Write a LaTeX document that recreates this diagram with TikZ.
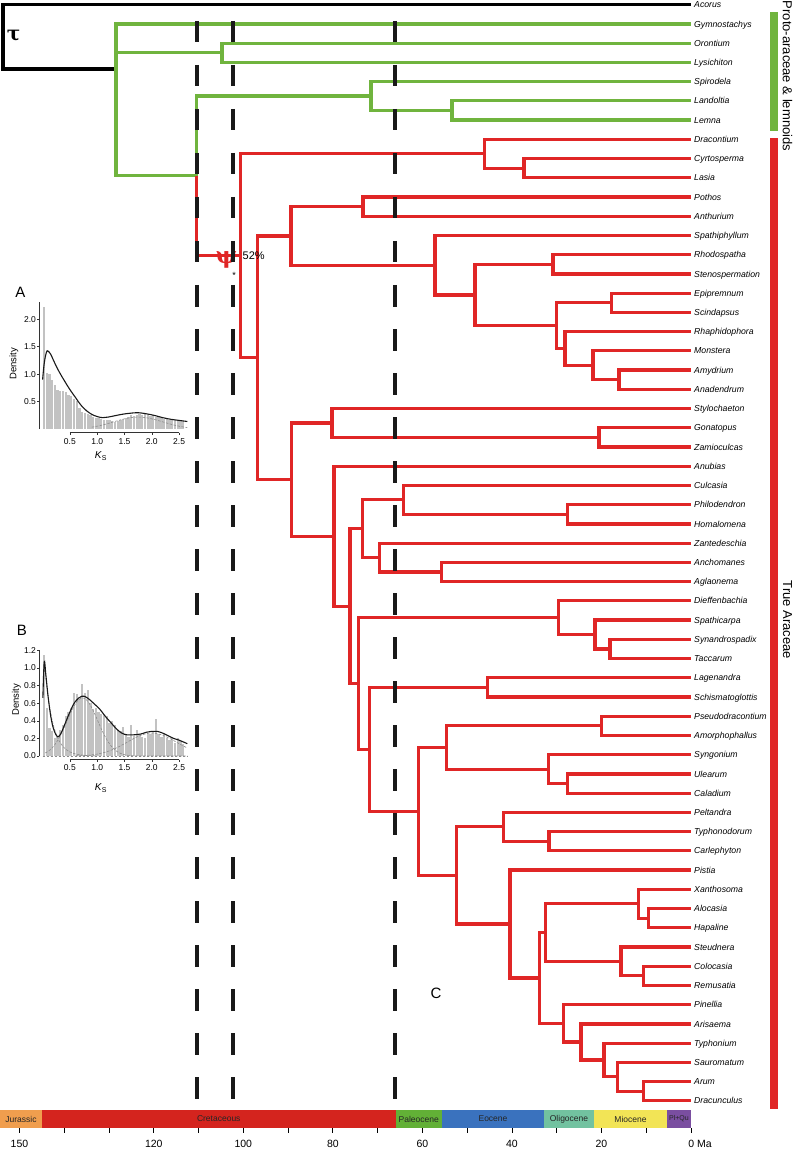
\documentclass[tikz,border=0pt]{standalone}
\usepackage{fontspec}
\setmainfont{Liberation Sans}
\newfontfamily\greekserif{DejaVu Serif}
\usetikzlibrary{calc}
\definecolor{arred}{RGB}{224,38,38}
\definecolor{argreen}{RGB}{112,180,62}
\definecolor{jur}{RGB}{240,158,78}
\definecolor{cre}{RGB}{212,36,30}
\definecolor{pal}{RGB}{98,176,54}
\definecolor{eoc}{RGB}{58,114,190}
\definecolor{oli}{RGB}{114,194,160}
\definecolor{mio}{RGB}{242,228,86}
\definecolor{plq}{RGB}{122,78,160}
\newcommand\inode[4]{\path let \p1=($(#3)!0.5!(#4)$) in (#2pt,\y1) coordinate (#1);}
\newcommand\kids[3]{\draw[rd] (#1) |- (#2) (#1) |- (#3);}
\begin{document}
\begin{tikzpicture}[x=1pt,y=-1pt,
  br/.style={line width=3.2pt, line join=miter},
  rd/.style={br, draw=arred}, gn/.style={br, draw=argreen}, bk/.style={br, draw=black},
  taxon/.style={anchor=base west, inner sep=0pt, xshift=3pt, yshift=-3.1pt, font=\fontsize{8.7}{10}\selectfont\itshape},
  dashln/.style={line width=4pt, draw=black!90, dash pattern=on 21.5pt off 22.5pt},
  geo/.style={inner sep=0pt, minimum height=18pt, font=\fontsize{8.5}{9}\selectfont, text=black!85},
  tlab/.style={inner sep=0pt, font=\fontsize{10.5}{12}\selectfont},
  ticklab/.style={inner sep=0pt, font=\fontsize{8.5}{10}\selectfont},
  histg/.style={fill=black!24},
  kscurve/.style={line width=1.1pt, draw=black!90},
  compdash/.style={line width=0.6pt, draw=black!45, dash pattern=on 2.5pt off 1.5pt},
  axln/.style={line width=0.5pt, draw=black!80},
  panel/.style={inner sep=0pt, font=\fontsize{15}{17}\selectfont}]
\fill[white] (0,0) rectangle (797,1155);
\useasboundingbox (0,0) rectangle (797,1155);

% ---- leaves
\foreach \n [count=\i] in {Acorus,Gymnostachys,Orontium,Lysichiton,Spirodela,Landoltia,Lemna,Dracontium,Cyrtosperma,Lasia,Pothos,Anthurium,Spathiphyllum,Rhodospatha,Stenospermation,Epipremnum,Scindapsus,Rhaphidophora,Monstera,Amydrium,Anadendrum,Stylochaeton,Gonatopus,Zamioculcas,Anubias,Culcasia,Philodendron,Homalomena,Zantedeschia,Anchomanes,Aglaonema,Dieffenbachia,Spathicarpa,Synandrospadix,Taccarum,Lagenandra,Schismatoglottis,Pseudodracontium,Amorphophallus,Syngonium,Ulearum,Caladium,Peltandra,Typhonodorum,Carlephyton,Pistia,Xanthosoma,Alocasia,Hapaline,Steudnera,Colocasia,Remusatia,Pinellia,Arisaema,Typhonium,Sauromatum,Arum,Dracunculus}{
  \coordinate (L\i) at (691,{4.7+19.23*(\i-1)});
  \node[taxon] (T\i) at (L\i) {\n};
}

% ---- internal nodes
\inode{nOL}{222}{L3}{L4}
\inode{nLL}{452}{L6}{L7}
\inode{nLem}{371}{L5}{nLL}
\inode{nCL}{524}{L9}{L10}
\inode{nDra}{484.5}{L8}{nCL}
\inode{nPA}{363}{L11}{L12}
\inode{nRS}{553}{L14}{L15}
\inode{nES}{611.5}{L16}{L17}
\inode{nAA}{619}{L20}{L21}
\inode{nMo}{593}{L19}{nAA}
\inode{nRh}{565}{L18}{nMo}
\inode{nEp}{556.5}{nES}{nRh}
\inode{nRhod}{475}{nRS}{nEp}
\inode{nMon}{435}{L13}{nRhod}
\inode{nPM}{291}{nPA}{nMon}
\inode{nGZ}{599}{L23}{L24}
\inode{nSty}{332}{L22}{nGZ}
\inode{nPH}{567.5}{L27}{L28}
\inode{nCul}{403.5}{L26}{nPH}
\inode{nAgl}{441.5}{L30}{L31}
\inode{nZan}{379.5}{L29}{nAgl}
\inode{nPhil}{362.5}{nCul}{nZan}
\inode{nST}{610}{L34}{L35}
\inode{nSp}{595}{L33}{nST}
\inode{nDie}{558.5}{L32}{nSp}
\inode{nLS}{487.5}{L36}{L37}
\inode{nPAm}{601.5}{L38}{L39}
\inode{nUC}{567.5}{L41}{L42}
\inode{nSyn}{548.5}{L40}{nUC}
\inode{nAmo}{446.5}{nPAm}{nSyn}
\inode{nTC}{549}{L44}{L45}
\inode{nPel}{503.5}{L43}{nTC}
\inode{nAH}{648.5}{L48}{L49}
\inode{nXa}{638.5}{L47}{nAH}
\inode{nCR}{643.5}{L51}{L52}
\inode{nSt}{621}{L50}{nCR}
\inode{nColo}{545.5}{nXa}{nSt}
\inode{nAD}{643.5}{L57}{L58}
\inode{nSau}{617.5}{L56}{nAD}
\inode{nTy}{604}{L55}{nSau}
\inode{nAri}{581}{L54}{nTy}
\inode{nPin}{563.5}{L53}{nAri}
\inode{nCA}{539.5}{nColo}{nPin}
\inode{nPis}{510}{L46}{nCA}
\inode{nPT}{456.5}{nPel}{nPis}
\inode{nAro}{418.5}{nAmo}{nPT}
\inode{nLag}{369.5}{nLS}{nAro}
\inode{nDL}{358.5}{nDie}{nLag}
\inode{nZD}{350}{nPhil}{nDL}
\inode{nAnu}{334}{L25}{nZD}
\inode{nSA}{291.5}{nSty}{nAnu}
\inode{nAll}{257.5}{nPM}{nSA}
\inode{nTrue}{240.5}{nDra}{nAll}
\inode{nCore}{196.7}{nLem}{nTrue}
\coordinate (nAr) at (116,69);
\inode{nRoot}{3}{L1}{nAr}

% ---- branches
\draw[bk] (nRoot) |- (L1) (nRoot) |- (nAr);
\draw[gn] (nAr) |- (L2) (nAr) |- (nOL) (nAr) |- (nCore);
\draw[gn] (nOL) |- (L3) (nOL) |- (L4);
\draw[gn] (nCore) |- (nLem);
\draw[gn] (nLem) |- (L5) (nLem) |- (nLL);
\draw[gn] (nLL) |- (L6) (nLL) |- (L7);
\draw[rd] (nCore) |- (nTrue);
\kids{nTrue}{nDra}{nAll}
\kids{nDra}{L8}{nCL}
\kids{nCL}{L9}{L10}
\kids{nAll}{nPM}{nSA}
\kids{nPM}{nPA}{nMon}
\kids{nPA}{L11}{L12}
\kids{nMon}{L13}{nRhod}
\kids{nRhod}{nRS}{nEp}
\kids{nRS}{L14}{L15}
\kids{nEp}{nES}{nRh}
\kids{nES}{L16}{L17}
\kids{nRh}{L18}{nMo}
\kids{nMo}{L19}{nAA}
\kids{nAA}{L20}{L21}
\kids{nSA}{nSty}{nAnu}
\kids{nSty}{L22}{nGZ}
\kids{nGZ}{L23}{L24}
\kids{nAnu}{L25}{nZD}
\kids{nZD}{nPhil}{nDL}
\kids{nPhil}{nCul}{nZan}
\kids{nCul}{L26}{nPH}
\kids{nPH}{L27}{L28}
\kids{nZan}{L29}{nAgl}
\kids{nAgl}{L30}{L31}
\kids{nDL}{nDie}{nLag}
\kids{nDie}{L32}{nSp}
\kids{nSp}{L33}{nST}
\kids{nST}{L34}{L35}
\kids{nLag}{nLS}{nAro}
\kids{nLS}{L36}{L37}
\kids{nAro}{nAmo}{nPT}
\kids{nAmo}{nPAm}{nSyn}
\kids{nPAm}{L38}{L39}
\kids{nSyn}{L40}{nUC}
\kids{nUC}{L41}{L42}
\kids{nPT}{nPel}{nPis}
\kids{nPel}{L43}{nTC}
\kids{nTC}{L44}{L45}
\kids{nPis}{L46}{nCA}
\kids{nCA}{nColo}{nPin}
\kids{nColo}{nXa}{nSt}
\kids{nXa}{L47}{nAH}
\kids{nAH}{L48}{L49}
\kids{nSt}{L50}{nCR}
\kids{nCR}{L51}{L52}
\kids{nPin}{L53}{nAri}
\kids{nAri}{L54}{nTy}
\kids{nTy}{L55}{nSau}
\kids{nSau}{L56}{nAD}
\kids{nAD}{L57}{L58}

% ---- symbols
\node[inner sep=0pt, font=\fontsize{20}{24}\greekserif\bfseries] (tau) at (13.5,36) {τ};
\node[inner sep=0pt, text=arred, font=\fontsize{23}{25}\greekserif\bfseries] (psi) at (226.5,260) {ψ};
\node[inner sep=0pt, anchor=west, font=\fontsize{11}{12}\selectfont] (pct) at (242.5,255.5) {52\%};
\node[inner sep=0pt, font=\fontsize{9}{10}\selectfont] (ast) at (234,275) {*};

% ---- dashed time lines
\coordinate (d1a) at (197,21);   \coordinate (d1b) at (197,1098.5);
\coordinate (d2a) at (233,21);   \coordinate (d2b) at (233,1098.5);
\coordinate (d3a) at (394.5,21); \coordinate (d3b) at (394.5,1098.5);
\draw[dashln] (d1a) -- (d1b);
\draw[dashln] (d2a) -- (d2b);
\draw[dashln] (d3a) -- (d3b);

% ---- clade bars
\fill[argreen] (769.5,12) rectangle (777.5,131.5);
\fill[arred] (769.5,138.5) rectangle (777.5,1109);
\node[rotate=-90, inner sep=0pt, font=\fontsize{13}{15}\selectfont] (protolab) at (787.5,76) {Proto-araceae \& lemnoids};
\node[rotate=-90, inner sep=0pt, font=\fontsize{13}{15}\selectfont] (truelab) at (787.5,620) {True Araceae};

% ---- panel C label
\node[panel] (pC) at (436,993) {C};

% ---- geological time bar
\node[geo, fill=jur, minimum width=42pt] (gJur) at (21,1119) {Jurassic};
\node[geo, fill=cre, minimum width=353.5pt] (gCre) at (218.75,1119) {Cretaceous};
\node[geo, fill=pal, minimum width=46.5pt] (gPal) at (418.75,1119) {Paleocene};
\node[geo, fill=eoc, minimum width=102pt] (gEoc) at (493,1119) {Eocene};
\node[geo, fill=oli, minimum width=50pt] (gOli) at (569,1119) {Oligocene};
\node[geo, fill=mio, minimum width=73pt] (gMio) at (630.5,1119) {Miocene};
\node[geo, fill=plq, minimum width=24pt, font=\fontsize{7}{8}\selectfont] (gPlq) at (679,1119) {Pl+Qu};
\foreach \t in {0,10,...,150} \draw[line width=0.8pt] ({691-4.477*\t},1128) -- ++(0,4.5);
\foreach \t/\nm in {150/a,120/b,100/c,80/d,60/e,40/f,20/g}
  \node[tlab] (tl\nm) at ({691-4.477*\t},1143.5) {\t};
\node[tlab, anchor=west] (tl0) at (688.1,1143.5) {0 Ma};

% ---- inset A
\node[panel] (pA) at (20.5,292.5) {A};
\node[ticklab, rotate=90, font=\fontsize{9.5}{11}\selectfont] (densA) at (14,364) {Density};
\node[ticklab, font=\fontsize{10}{12}\selectfont] (ksA) at (101,456) {\textit{K}\textsubscript{S}};
\begin{scope}[shift={(42.6,429.2)}, x=54.6pt, y=55pt]
  \foreach \h [count=\i from 0] in {2.22,1.02,1.0,0.9,0.8,0.72,0.7,0.7,0.68,0.62,0.6,0.55,0.52,0.38,0.32,0.3,0.28,0.25,0.22,0.2,0.2,0.18,0.17,0.16,0.16,0.15,0.14,0.15,0.16,0.18,0.2,0.22,0.25,0.24,0.26,0.27,0.25,0.27,0.26,0.24,0.25,0.22,0.23,0.2,0.19,0.2,0.17,0.16,0.17,0.15,0.16,0.15}
    {\fill[histg] ({\i*0.05+0.004},0) rectangle ({\i*0.05+0.046},\h);}
  \draw[compdash] plot[domain=0.9:2.65,samples=40] (\x,{0.22*exp(-((\x-1.75)^2)/(2*0.45^2))});
  \draw[kscurve] plot[smooth, tension=0.6] coordinates {(0.0,0.9) (0.03,1.2) (0.07,1.4) (0.1,1.42) (0.15,1.36) (0.2,1.25) (0.3,1.05) (0.4,0.88) (0.5,0.72) (0.6,0.58) (0.7,0.44) (0.8,0.34) (0.9,0.27) (1.0,0.23) (1.1,0.21) (1.2,0.22) (1.3,0.24) (1.45,0.27) (1.6,0.29) (1.75,0.3) (1.9,0.28) (2.05,0.25) (2.2,0.21) (2.35,0.18) (2.5,0.16) (2.65,0.14)};
  \draw[axln] (-0.06,0) -- (-0.06,2.32);
  \foreach \v [count=\k] in {0.5,1.0,1.5,2.0}
    {\draw[axln] (-0.06,\v) -- (-0.1,\v) node[ticklab, anchor=east, xshift=-1pt] (ayA\k) {\v};}
  \draw[axln] (0.5,-0.06) -- (2.5,-0.06);
  \foreach \v [count=\k] in {0.5,1.0,1.5,2.0,2.5}
    {\draw[axln] (\v,-0.06) -- (\v,-0.1); \node[ticklab] (axA\k) at ([yshift=-12pt]\v,0) {\v};}
\end{scope}

% ---- inset B
\node[panel] (pB) at (22,630.5) {B};
\node[ticklab, rotate=90, font=\fontsize{9.5}{11}\selectfont] (densB) at (16.5,700) {Density};
\node[ticklab, font=\fontsize{10}{12}\selectfont] (ksB) at (101,788) {\textit{K}\textsubscript{S}};
\begin{scope}[shift={(42.6,756)}, x=54.6pt, y=88pt]
  \foreach \h [count=\i from 0] in {1.15,0.55,0.32,0.28,0.2,0.22,0.3,0.35,0.45,0.5,0.55,0.72,0.7,0.65,0.82,0.72,0.75,0.6,0.53,0.55,0.5,0.48,0.47,0.45,0.38,0.4,0.35,0.3,0.28,0.33,0.25,0.22,0.35,0.23,0.3,0.25,0.22,0.2,0.25,0.25,0.27,0.42,0.25,0.22,0.25,0.2,0.18,0.22,0.15,0.2,0.17,0.14}
    {\fill[histg] ({\i*0.05+0.004},0) rectangle ({\i*0.05+0.046},\h);}
  \draw[compdash] (0,0) -- (2.65,0);
  \draw[compdash] plot[domain=0.03:1.0,samples=40] (\x,{1.07*exp(-(\x-0.03)/0.15)});
  \draw[compdash] plot[domain=0.05:2.65,samples=60] (\x,{0.66*exp(-((\x-0.73)^2)/(2*0.28^2))});
  \draw[compdash] plot[domain=0.6:2.65,samples=50] (\x,{0.26*exp(-((\x-2.0)^2)/(2*0.45^2))});
  \draw[kscurve] plot[smooth, tension=0.6] coordinates {(0.005,0.66) (0.03,1.07) (0.06,0.92) (0.1,0.68) (0.15,0.45) (0.2,0.31) (0.27,0.22) (0.33,0.25) (0.4,0.35) (0.5,0.5) (0.6,0.62) (0.72,0.68) (0.82,0.66) (0.95,0.59) (1.05,0.53) (1.15,0.45) (1.25,0.38) (1.35,0.31) (1.45,0.26) (1.55,0.24) (1.65,0.24) (1.8,0.25) (1.9,0.27) (2.0,0.28) (2.1,0.28) (2.2,0.26) (2.3,0.23) (2.4,0.2) (2.5,0.18) (2.65,0.14)};
  \draw[axln] (-0.06,0) -- (-0.06,1.2);
  \foreach \v [count=\k] in {0.0,0.2,0.4,0.6,0.8,1.0,1.2}
    {\draw[axln] (-0.06,\v) -- (-0.1,\v) node[ticklab, anchor=east, xshift=-1pt] (ayB\k) {\v};}
  \draw[axln] (0.5,-0.04) -- (2.5,-0.04);
  \foreach \v [count=\k] in {0.5,1.0,1.5,2.0,2.5}
    {\draw[axln] (\v,-0.04) -- (\v,-0.065); \node[ticklab] (axB\k) at ([yshift=-12pt]\v,0) {\v};}
\end{scope}
\end{tikzpicture}
\end{document}
